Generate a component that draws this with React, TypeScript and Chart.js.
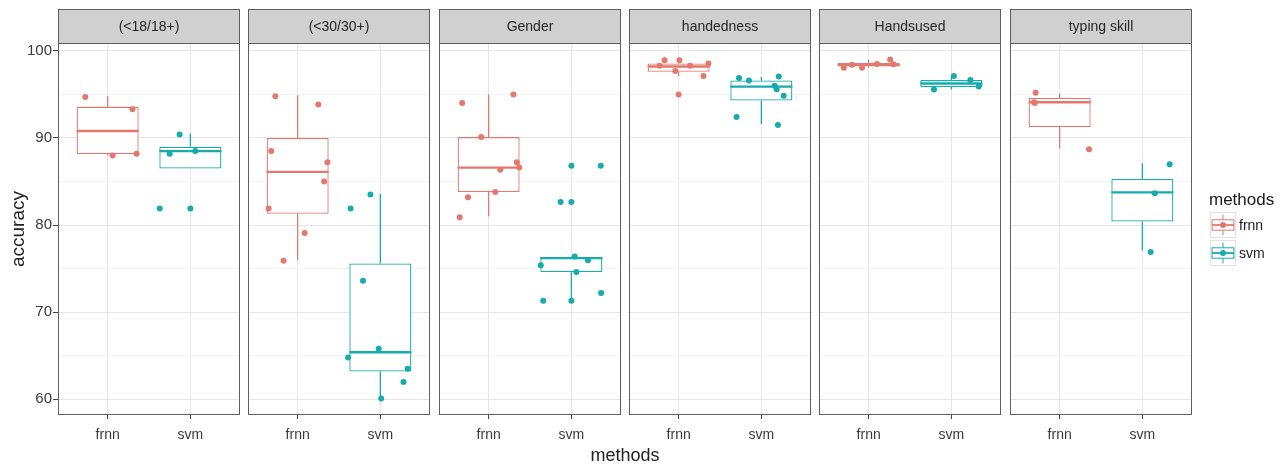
import React, { useEffect, useRef } from "react";
import { Chart, registerables } from "chart.js";

Chart.register(...registerables);

// ---------------- data ----------------
const facetLabels = ["(<18/18+)", "(<30/30+)", "Gender", "handedness", "Handsused", "typing skill"];
const methods = ["frnn", "svm"];
const yTicks = [60, 65, 70, 75, 80, 85, 90, 95, 100];
const yMin = 58.2;
const yMax = 100.9;

// boxplot statistics per facet
const frnnLower = [88.0, 76.0, 81.0, 97.1, 98.05, 88.8];
const frnnQ1 = [88.15, 81.3, 83.8, 97.6, 98.2, 91.25];
const frnnMedian = [90.8, 86.1, 86.6, 98.2, 98.4, 94.1];
const frnnQ3 = [93.6, 90.0, 90.1, 98.55, 98.6, 94.6];
const frnnUpper = [94.8, 94.9, 95.0, 98.93, 99.0, 95.1];

const svmLower = [86.5, 60.1, 71.3, 91.6, 95.57, 77.1];
const svmQ1 = [86.5, 63.2, 74.6, 94.3, 95.85, 80.4];
const svmMedian = [88.5, 65.4, 76.2, 95.9, 96.25, 83.76];
const svmQ3 = [89.0, 75.6, 76.35, 96.6, 96.64, 85.3];
const svmUpper = [90.5, 83.6, 76.4, 97.0, 97.1, 87.1];

// jittered observations
const frnnAccuracy = [
  [94.7, 93.3, 88.0, 88.2],
  [94.8, 93.85, 88.5, 87.2, 85.0, 81.9, 79.1, 75.9],
  [94.0, 95.0, 90.1, 87.2, 86.6, 86.35, 83.8, 83.2, 80.9],
  [98.93, 98.93, 98.3, 98.3, 98.55, 97.7, 97.1, 95.0],
  [98.05, 98.05, 99.0, 98.4, 98.5, 98.45],
  [95.2, 94.1, 94.0, 88.7],
];
const frnnJitter = [
  [-0.27, 0.3, 0.06, 0.35],
  [-0.27, 0.25, -0.32, 0.36, 0.32, -0.35, 0.085, -0.17],
  [-0.32, 0.3, -0.09, 0.34, 0.37, 0.14, 0.08, -0.25, -0.35],
  [-0.17, 0.01, -0.23, 0.14, 0.36, -0.04, 0.3, 0.0],
  [-0.3, -0.08, 0.26, -0.2, 0.1, 0.3],
  [-0.29, -0.31, -0.3, 0.355],
];
const svmAccuracy = [
  [90.4, 88.2, 88.5, 81.9, 81.9],
  [83.5, 81.9, 73.6, 65.8, 64.8, 63.5, 62.0, 60.1],
  [86.8, 86.8, 82.65, 82.65, 76.4, 75.95, 75.4, 74.6, 72.2, 71.3, 71.3],
  [96.87, 96.6, 97.06, 96.0, 95.6, 94.84, 92.4, 91.5],
  [97.1, 96.64, 95.57, 95.9],
  [86.97, 83.65, 76.9],
];
const svmJitter = [
  [-0.13, -0.25, 0.06, -0.37, 0.0],
  [-0.12, -0.36, -0.21, -0.02, -0.39, 0.33, 0.28, 0.01],
  [0.0, 0.355, -0.13, 0.0, 0.04, 0.2, -0.37, 0.06, 0.36, -0.34, 0.0],
  [-0.27, -0.15, 0.21, 0.16, 0.185, 0.27, -0.3, 0.2],
  [0.03, 0.23, -0.21, 0.33],
  [0.33, 0.15, 0.1],
];

// ---------------- styling / layout ----------------
const FONT = "'Liberation Sans', Arial, Helvetica, sans-serif";
const COLORS = ["#E3786F", "#17ABAC"];
const W = 1285;
const H = 466;
const PANEL_LEFT = [58, 248, 439, 629, 819, 1010];
const PANEL_W = 182;
const STRIP_TOP = 9;
const PANEL_TOP = 43;
const X_AXIS_H = 51;
const Y_AXIS_W = 58;
const BOX_HALF = 0.375;

Chart.defaults.font.family = FONT;

const facetPlugin = {
  id: "facetFrame",
  afterDraw(chart: any, _args: any, opts: any) {
    const { ctx, chartArea: a } = chart;
    ctx.save();
    ctx.fillStyle = "#d0d0d0";
    ctx.fillRect(a.left, STRIP_TOP, a.right - a.left, a.top - STRIP_TOP);
    ctx.strokeStyle = "#5e5e5e";
    ctx.lineWidth = 1;
    ctx.strokeRect(a.left + 0.5, STRIP_TOP + 0.5, a.right - a.left - 1, a.top - STRIP_TOP);
    ctx.fillStyle = "#262626";
    ctx.font = `14px ${FONT}`;
    ctx.textAlign = "center";
    ctx.textBaseline = "middle";
    ctx.fillText(opts.label, (a.left + a.right) / 2, (STRIP_TOP + a.top) / 2 + 1);
    ctx.strokeRect(a.left + 0.5, a.top + 0.5, a.right - a.left - 1, a.bottom - a.top - 1);
    ctx.restore();
  },
};

const legendPlugin = {
  id: "facetLegend",
  afterDraw(chart: any) {
    const { ctx } = chart;
    ctx.save();
    // shared x-axis title
    ctx.fillStyle = "#222";
    ctx.font = `18px ${FONT}`;
    ctx.textAlign = "center";
    ctx.textBaseline = "middle";
    ctx.fillText("methods", (PANEL_LEFT[0] + PANEL_LEFT[5] + PANEL_W) / 2, 456);
    // legend title
    ctx.textAlign = "left";
    ctx.font = `17px ${FONT}`;
    ctx.fillStyle = "#1a1a1a";
    ctx.fillText("methods", 1209, 200);
    const kx = 1210;
    const ks = 26;
    methods.forEach((m, i) => {
      const ky = 212 + i * 28;
      ctx.fillStyle = "#ffffff";
      ctx.fillRect(kx, ky, ks, ks);
      ctx.strokeStyle = "#e2e2e2";
      ctx.lineWidth = 1;
      ctx.strokeRect(kx + 0.5, ky + 0.5, ks - 1, ks - 1);
      ctx.strokeStyle = COLORS[i];
      ctx.lineWidth = 1;
      const cx = kx + ks / 2;
      ctx.beginPath();
      ctx.moveTo(cx, ky + ks * 0.1);
      ctx.lineTo(cx, ky + ks * 0.3);
      ctx.moveTo(cx, ky + ks * 0.7);
      ctx.lineTo(cx, ky + ks * 0.9);
      ctx.stroke();
      ctx.strokeRect(kx + ks * 0.08, ky + ks * 0.3, ks * 0.84, ks * 0.4);
      ctx.lineWidth = 1.8;
      ctx.beginPath();
      ctx.moveTo(kx + ks * 0.08, ky + ks / 2);
      ctx.lineTo(kx + ks * 0.92, ky + ks / 2);
      ctx.stroke();
      ctx.fillStyle = COLORS[i];
      ctx.beginPath();
      ctx.arc(cx, ky + ks / 2, 3, 0, Math.PI * 2);
      ctx.fill();
      ctx.fillStyle = "#1a1a1a";
      ctx.font = `14px ${FONT}`;
      ctx.fillText(m, kx + ks + 3, ky + ks / 2 + 1);
    });
    ctx.restore();
  },
};

function buildConfig(i: number): any {
  const first = i === 0;
  const last = i === facetLabels.length - 1;
  const stats = [
    [frnnLower[i], frnnQ1[i], frnnMedian[i], frnnQ3[i], frnnUpper[i]],
    [svmLower[i], svmQ1[i], svmMedian[i], svmQ3[i], svmUpper[i]],
  ];
  const pts = [
    frnnAccuracy[i].map((y, k) => ({ x: 0 + frnnJitter[i][k], y })),
    svmAccuracy[i].map((y, k) => ({ x: 1 + svmJitter[i][k], y })),
  ];
  const datasets: any[] = [];
  pts.forEach((p, m) =>
    datasets.push({
      type: "line",
      data: p,
      showLine: false,
      pointRadius: 3,
      pointHoverRadius: 3,
      pointBackgroundColor: COLORS[m],
      pointBorderWidth: 0,
      order: 0,
    })
  );
  stats.forEach((s, m) =>
    datasets.push({
      type: "line",
      data: [
        { x: m - BOX_HALF, y: s[2] },
        { x: m + BOX_HALF, y: s[2] },
      ],
      borderColor: COLORS[m],
      borderWidth: 2.3,
      pointRadius: 0,
      fill: false,
      order: 1,
    })
  );
  datasets.push({
    type: "bar",
    data: stats.map((s, m) => ({ x: m, y: [s[1], s[3]] })),
    backgroundColor: "#ffffff",
    borderColor: COLORS,
    borderWidth: 1.3,
    borderSkipped: false,
    barPercentage: 0.75,
    categoryPercentage: 1,
    order: 2,
  });
  stats.forEach((s, m) => {
    datasets.push({
      type: "line",
      data: [
        { x: m, y: s[3] },
        { x: m, y: s[4] },
      ],
      borderColor: COLORS[m],
      borderWidth: 1.3,
      pointRadius: 0,
      fill: false,
      order: 3,
    });
    datasets.push({
      type: "line",
      data: [
        { x: m, y: s[0] },
        { x: m, y: s[1] },
      ],
      borderColor: COLORS[m],
      borderWidth: 1.3,
      pointRadius: 0,
      fill: false,
      order: 3,
    });
  });

  const left = first ? 0 : PANEL_LEFT[i];
  const right = W - PANEL_LEFT[i] - PANEL_W;
  const isMajor = (v: number) => Math.abs(v % 10) < 1e-6;

  return {
    type: "bar",
    data: { datasets },
    plugins: last ? [facetPlugin, legendPlugin] : [facetPlugin],
    options: {
      responsive: false,
      animation: false,
      devicePixelRatio: 1,
      events: [],
      layout: { padding: { left, right, top: PANEL_TOP, bottom: 0 } },
      plugins: {
        legend: { display: false },
        tooltip: { enabled: false },
        title: { display: false },
        facetFrame: { label: facetLabels[i] },
      },
      scales: {
        x: {
          type: "linear",
          min: -0.6,
          max: 1.6,
          offset: false,
          afterBuildTicks: (s: any) => {
            s.ticks = methods.map((_, k) => ({ value: k }));
          },
          afterFit: (s: any) => {
            s.height = X_AXIS_H;
          },
          ticks: {
            callback: (v: any) => methods[v as number] ?? "",
            color: "#3a3a3a",
            font: { size: 14 },
            padding: 8,
            autoSkip: false,
            maxRotation: 0,
          },
          grid: {
            offset: false,
            color: "#e6e6e6",
            lineWidth: 1,
            drawTicks: true,
            tickLength: 4,
            tickColor: "#444",
          },
          border: { display: false },
        },
        y: {
          type: "linear",
          min: yMin,
          max: yMax,
          beginAtZero: false,
          afterBuildTicks: (s: any) => {
            s.ticks = yTicks.map((v) => ({ value: v }));
          },
          afterFit: (s: any) => {
            s.width = first ? Y_AXIS_W : 0;
          },
          ticks: {
            display: first,
            callback: (v: any) => (isMajor(v) ? String(v) : ""),
            color: "#3a3a3a",
            font: { size: 15 },
            padding: 1,
          },
          grid: {
            color: (c: any) => (c.tick && isMajor(c.tick.value) ? "#e6e6e6" : "#f1f1f1"),
            lineWidth: (c: any) => (c.tick && isMajor(c.tick.value) ? 1 : 0.8),
            drawTicks: first,
            tickLength: 5,
            tickColor: (c: any) => (c.tick && isMajor(c.tick.value) ? "#444" : "rgba(0,0,0,0)"),
          },
          border: { display: false },
          title: {
            display: first,
            text: "accuracy",
            color: "#222",
            font: { size: 19 },
            padding: { top: 7, bottom: 0 },
          },
        },
      },
    },
  };
}

function Facet({ index }: { index: number }) {
  const ref = useRef<HTMLCanvasElement | null>(null);
  useEffect(() => {
    if (!ref.current) return;
    const chart = new Chart(ref.current, buildConfig(index));
    return () => chart.destroy();
  }, [index]);
  return (
    <canvas
      ref={ref}
      width={W}
      height={H}
      style={{ position: "absolute", left: 0, top: 0, width: W, height: H }}
    />
  );
}

export default function App() {
  useEffect(() => {
    document.body.style.margin = "0";
  }, []);
  return (
    <div style={{ position: "relative", width: W, height: H, background: "#ffffff", overflow: "hidden" }}>
      {facetLabels.map((_, i) => (
        <Facet key={i} index={i} />
      ))}
    </div>
  );
}
